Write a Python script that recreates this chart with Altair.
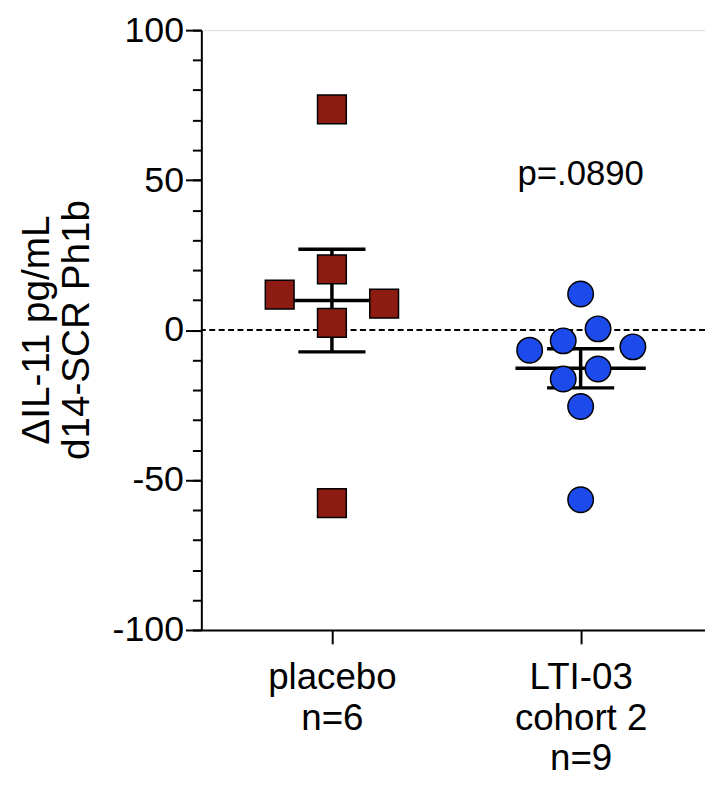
import altair as alt
import pandas as pd
import numpy as np

# ---- data ----
group_index = [0, 1]
group_labels = [["placebo", "n=6"], ["LTI-03", "cohort 2", "n=9"]]
placebo_vals = [73.6, 20.2, 11.8, 8.8, 2.4, -57.7]
placebo_jitter = [0.0, 0.0, -0.21, 0.21, 0.0, 0.0]
lti_vals = [12.0, 0.4, -3.6, -6.7, -5.6, -13.0, -16.3, -25.5, -56.6]
lti_jitter = [0.0, 0.07, -0.07, -0.205, 0.21, 0.07, -0.07, 0.0, 0.0]
y_major = [-100, -50, 0, 50, 100]
y_minor = list(range(-100, 101, 10))
p_text = ["p=.0890"]
p_group = [1]
p_y = [48.5]
y_title = ["\u0394IL-11 pg/mL", "d14-SCR Ph1b"]

FONT = "Liberation Sans"
CAP = 0.135
MEANW = 0.262

pts_p = pd.DataFrame({"x": [group_index[0] + j for j in placebo_jitter], "y": placebo_vals})
pts_l = pd.DataFrame({"x": [group_index[1] + j for j in lti_jitter], "y": lti_vals})

rows = []
for g, vals in zip(group_index, [placebo_vals, lti_vals]):
    a = np.array(vals)
    m = a.mean()
    sem = a.std(ddof=1) / np.sqrt(len(a))
    rows.append({"g": g, "mean": m, "lo": m - sem, "hi": m + sem,
                 "cl": g - CAP, "cr": g + CAP, "ml": g - MEANW, "mr": g + MEANW})
summ = pd.DataFrame(rows)

xscale = alt.Scale(domain=[-0.525, 1.5], nice=False, zero=False)
yscale = alt.Scale(domain=[-100, 100], nice=False, zero=False)

label_expr = "datum.value == 0 ? %s : %s" % (
    "['" + "','".join(group_labels[0]) + "']",
    "['" + "','".join(group_labels[1]) + "']",
)

x_axis = alt.Axis(values=group_index, labelExpr=label_expr, title=None, orient="bottom",
                  tickSize=14, tickWidth=2, tickColor="black", domainColor="black",
                  domainWidth=2, labelFont=FONT, labelFontSize=37, labelColor="black",
                  labelLineHeight=41, labelPadding=16, grid=False)

y_axis_major = alt.Axis(values=y_major, orient="left", tickSize=16, tickWidth=2,
                        tickColor="black", domainColor="black", domainWidth=2,
                        labelExpr="'' + datum.value",
                        labelFont=FONT, labelFontSize=36, labelColor="black",
                        labelPadding=2, grid=False, title=y_title, titleFont=FONT,
                        titleFontSize=39, titleFontWeight="normal", titleColor="black",
                        titleLineHeight=40, titleX=-166, titleY=302, titleAngle=-90,
                        titleAlign="center", titleBaseline="middle")
y_axis_minor = alt.Axis(values=y_minor, orient="left", tickSize=9, tickWidth=2,
                        tickColor="black", domain=False, labels=False, title=None, grid=False)

zero = alt.Chart(pd.DataFrame({"y": [0]})).mark_rule(
    color="black", strokeWidth=2, strokeDash=[6, 3.5]
).encode(y=alt.Y("y:Q", scale=yscale, axis=y_axis_major))

minor = alt.Chart(pd.DataFrame({"y": y_minor})).mark_rule(opacity=0).encode(
    y=alt.Y("y:Q", scale=yscale, axis=y_axis_minor))

vbar = alt.Chart(summ).mark_rule(color="black", strokeWidth=3.5).encode(
    x=alt.X("g:Q", scale=xscale, axis=None),
    y=alt.Y("lo:Q", scale=yscale, axis=None), y2="hi:Q")
cap_lo = alt.Chart(summ).mark_rule(color="black", strokeWidth=3.5).encode(
    x=alt.X("cl:Q", scale=xscale, axis=None), x2="cr:Q",
    y=alt.Y("lo:Q", scale=yscale, axis=None))
cap_hi = alt.Chart(summ).mark_rule(color="black", strokeWidth=3.5).encode(
    x=alt.X("cl:Q", scale=xscale, axis=None), x2="cr:Q",
    y=alt.Y("hi:Q", scale=yscale, axis=None))
mean_line = alt.Chart(summ).mark_rule(color="black", strokeWidth=3.5).encode(
    x=alt.X("ml:Q", scale=xscale, axis=None), x2="mr:Q",
    y=alt.Y("mean:Q", scale=yscale, axis=None))

squares = alt.Chart(pts_p).mark_point(
    shape="square", filled=True, size=841, fill="#8c1c12", stroke="black",
    strokeWidth=1.5, opacity=1
).encode(x=alt.X("x:Q", scale=xscale, axis=x_axis),
         y=alt.Y("y:Q", scale=yscale, axis=None))

circles = alt.Chart(pts_l).mark_point(
    shape="circle", filled=True, size=660, fill="#1d4aeb", stroke="black",
    strokeWidth=1.5, opacity=1
).encode(x=alt.X("x:Q", scale=xscale, axis=None),
         y=alt.Y("y:Q", scale=yscale, axis=None))

ptxt = alt.Chart(pd.DataFrame({"x": p_group, "y": p_y, "t": p_text})).mark_text(
    font=FONT, fontSize=35, color="black", align="center", baseline="alphabetic"
).encode(x=alt.X("x:Q", scale=xscale, axis=None),
         y=alt.Y("y:Q", scale=yscale, axis=None), text="t:N")

chart = alt.layer(minor, zero, vbar, cap_lo, cap_hi, mean_line, squares, circles, ptxt).resolve_axis(
    x="independent", y="independent"
).properties(
    width=508, height=605,
    autosize=alt.AutoSizeParams(type="none"),
    padding={"left": 195, "top": 19, "right": 0, "bottom": 150},
).configure_view(stroke=None).configure(background="white")

chart.save("out.html", embed_options={"renderer": "svg", "actions": False})
